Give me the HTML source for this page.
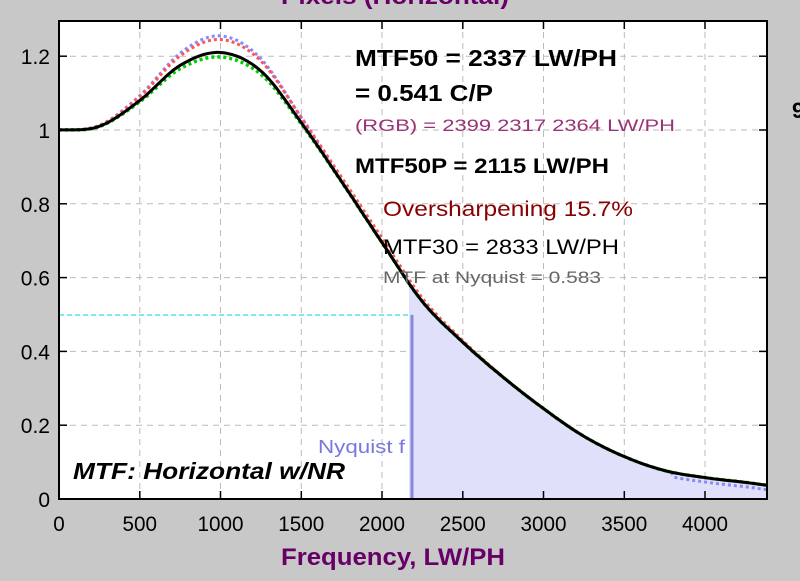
<!DOCTYPE html>
<html><head><meta charset="utf-8"><style>
html,body{margin:0;padding:0;background:#c8c8c8;}
svg{display:block;font-family:"Liberation Sans Narrow","Liberation Sans",sans-serif;}
</style></head><body>
<svg id="s" width="800" height="581" viewBox="0 0 800 581" xmlns="http://www.w3.org/2000/svg">
<rect width="800" height="581" fill="#c8c8c8"/>
<text x="281" y="4" font-size="23" font-weight="bold" fill="#660066" textLength="228" lengthAdjust="spacingAndGlyphs">Pixels (Horizontal)</text>
<rect x="59" y="21" width="708" height="478" fill="#fff"/>
<g id="grid" stroke="#bbb" stroke-dasharray="6,5" stroke-width="1"></g>
<path id="fill" fill="#e0e0fa" stroke="none"/>
<line x1="59" y1="315" x2="412" y2="315" stroke="#33dddd" stroke-width="1.3" stroke-dasharray="5,3"/>
<line x1="412" y1="315" x2="412" y2="499" stroke="#8888dd" stroke-width="3"/>
<path id="blue" fill="none" stroke="#8888ff" stroke-width="3" stroke-dasharray="3,3"/>
<path id="red" fill="none" stroke="#ff5555" stroke-width="3" stroke-dasharray="3,3"/>
<path id="green" fill="none" stroke="#00cc00" stroke-width="3.5" stroke-dasharray="3,3"/>
<path id="black" fill="none" stroke="#000" stroke-width="3"/>
<g id="ticks" stroke="#000" stroke-width="1.5"></g>
<rect x="59" y="21" width="708" height="478" fill="none" stroke="#000" stroke-width="2"/>
<g id="labels" font-size="21" fill="#000"></g>
<g lengthAdjust="spacingAndGlyphs">
<text x="355" y="66" font-size="23" font-weight="bold" textLength="262" lengthAdjust="spacingAndGlyphs">MTF50 = 2337 LW/PH</text>
<text x="355" y="101" font-size="23" font-weight="bold" textLength="138" lengthAdjust="spacingAndGlyphs">= 0.541 C/P</text>
<text x="355" y="131" font-size="17" fill="#993377" textLength="320" lengthAdjust="spacingAndGlyphs">(RGB) = 2399  2317  2364 LW/PH</text>
<text x="355" y="173" font-size="21" font-weight="bold" textLength="254" lengthAdjust="spacingAndGlyphs">MTF50P = 2115 LW/PH</text>
<text x="383" y="216" font-size="21" fill="#880000" textLength="250" lengthAdjust="spacingAndGlyphs">Oversharpening 15.7%</text>
<text x="383" y="254" font-size="21" textLength="236" lengthAdjust="spacingAndGlyphs">MTF30 = 2833 LW/PH</text>
<text x="383" y="283" font-size="17" fill="#666" textLength="218" lengthAdjust="spacingAndGlyphs">MTF at Nyquist = 0.583</text>
<text x="318" y="453" font-size="18" fill="#7777dd" textLength="87" lengthAdjust="spacingAndGlyphs">Nyquist f</text>
<text x="73" y="479" font-size="23" font-weight="bold" font-style="italic" textLength="272" lengthAdjust="spacingAndGlyphs">MTF: Horizontal w/NR</text>
<text x="281" y="565" font-size="24" font-weight="bold" fill="#660066" textLength="224" lengthAdjust="spacingAndGlyphs">Frequency, LW/PH</text>
</g>
<text x="792" y="118" font-size="22" font-weight="bold">9</text>
</svg>
<script>
const X=f=>59+f*0.1615, Y=v=>499-v*369;
const g=document.getElementById('grid'),t=document.getElementById('ticks'),l=document.getElementById('labels');
let gs='',ts='',ls='';
for(let f=0;f<=4000;f+=500){const x=X(f).toFixed(1);
 if(f>0)gs+=`<line x1="${x}" y1="21" x2="${x}" y2="499"/>`;
 ts+=`<line x1="${x}" y1="499" x2="${x}" y2="491"/><line x1="${x}" y1="21" x2="${x}" y2="29"/>`;
 const w=String(f).length*11.5;
 ls+=`<text x="${x}" y="531" text-anchor="middle" textLength="${w}" lengthAdjust="spacingAndGlyphs">${f}</text>`;}
[0,0.2,0.4,0.6,0.8,1,1.2].forEach(v=>{const y=Y(v).toFixed(1);
 if(v>0)gs+=`<line x1="59" y1="${y}" x2="767" y2="${y}"/>`;
 ts+=`<line x1="59" y1="${y}" x2="67" y2="${y}"/><line x1="767" y1="${y}" x2="759" y2="${y}"/>`;
 ls+=`<text x="50" y="${(+y+8)}" text-anchor="end">${v}</text>`;});
g.innerHTML=gs;t.innerHTML=ts;l.innerHTML=ls;
const P=[[0,1],[250,1.01],[500,1.08],[750,1.175],[1000,1.21],[1250,1.16],[1500,1.02],[1750,0.86],[2000,0.695],[2250,0.535],[2500,0.425],[2750,0.33],[3000,0.245],[3250,0.17],[3500,0.115],[3750,0.077],[4000,0.058],[4250,0.045],[4500,0.032]];
function interp(f){for(let i=0;i<P.length-1;i++){if(f<=P[i+1][0]){const p0=P[Math.max(i-1,0)],p1=P[i],p2=P[i+1],p3=P[Math.min(i+2,P.length-1)];const t=(f-p1[0])/(p2[0]-p1[0]);const t2=t*t,t3=t2*t;return 0.5*((2*p1[1])+(-p0[1]+p2[1])*t+(2*p0[1]-5*p1[1]+4*p2[1]-p3[1])*t2+(-p0[1]+3*p1[1]-3*p2[1]+p3[1])*t3);}}return P[P.length-1][1];}
function path(fn){let d='';for(let f=0;f<=4384;f+=16){d+=(f?'L':'M')+X(f).toFixed(1)+','+Y(fn(f)).toFixed(1);}d+='L'+X(4384).toFixed(1)+','+Y(fn(4384)).toFixed(1);return d;}
const bump=f=>Math.exp(-Math.pow((f-1000)/450,2));
document.getElementById('black').setAttribute('d',path(interp));
document.getElementById('blue').setAttribute('d',path(f=>interp(f)+0.045*bump(f)-(f>3800?0.012:0)));
document.getElementById('red').setAttribute('d',path(f=>interp(f)+0.035*bump(f)+0.012*Math.exp(-Math.pow((f-2000)/500,2))));
document.getElementById('green').setAttribute('d',path(f=>interp(f)-0.012*bump(f)));
let d='M'+X(2167)+','+Y(0);for(let f=2167;f<=4384;f+=16)d+='L'+X(f).toFixed(1)+','+Y(interp(f)).toFixed(1);
d+='L767,'+Y(interp(4384)).toFixed(1)+'L767,499Z';document.getElementById('fill').setAttribute('d',d);
</script>
</body></html>
